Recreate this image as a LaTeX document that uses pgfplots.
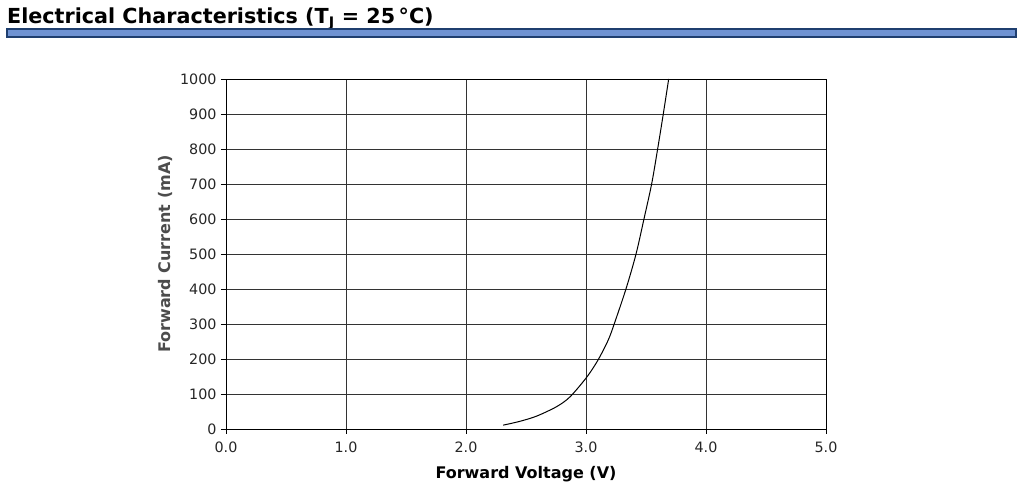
\documentclass[border=0pt]{standalone}
\usepackage{fontspec}
\setmainfont{DejaVu Sans}
\usepackage{pgfplots}
\pgfplotsset{compat=1.18}
\definecolor{barfill}{HTML}{6F93D3}
\definecolor{barline}{HTML}{1F3F6F}
\begin{document}
\begin{tikzpicture}[x=1pt,y=1pt]
\path[use as bounding box] (0,0) rectangle (1023,492);
\node[anchor=west,inner sep=0pt,font=\bfseries\fontsize{20.7}{24}\selectfont] at (7,473) {Electrical Characteristics (T\textsubscript{J} = 25\,°C)};
\draw[barline,line width=2pt,fill=barfill] (7,455) rectangle (1016,463);
\begin{axis}[
  at={(226pt,63pt)}, anchor=south west,
  width=600pt, height=350pt, scale only axis,
  xmin=0, xmax=5, ymin=0, ymax=1000,
  xtick={0,1,2,3,4,5},
  ytick={0,100,...,1000},
  xticklabels={0.0,1.0,2.0,3.0,4.0,5.0},
  grid=major,
  major grid style={black!80, line width=0.8pt},
  axis line style={black, line width=0.8pt},
  tick align=outside,
  tick pos=left,
  major tick length=5pt,
  tick style={black, line width=0.8pt},
  /pgf/number format/assume math mode=true,
  /pgf/number format/1000 sep={},
  ticklabel style={font=\fontsize{14.3}{16}\selectfont, text=black!85},
  xticklabel style={yshift=-4pt},
  yticklabel style={xshift=-1pt},
  xlabel={Forward Voltage (V)},
  ylabel={Forward Current (mA)},
  label style={font=\bfseries\fontsize{16}{18}\selectfont},
  xlabel style={yshift=-7pt},
  ylabel style={yshift=1pt, text=black!70},
]
\addplot[black, line width=1pt, smooth] coordinates {
(2.31,11) (2.45,22) (2.59,37) (2.756,64) (2.867,92) (3.006,148)
(3.10,197) (3.185,254) (3.235,300) (3.333,400) (3.417,500) (3.483,600)
(3.547,700) (3.597,800) (3.644,900) (3.689,1000)
};
\end{axis}
\end{tikzpicture}
\end{document}
